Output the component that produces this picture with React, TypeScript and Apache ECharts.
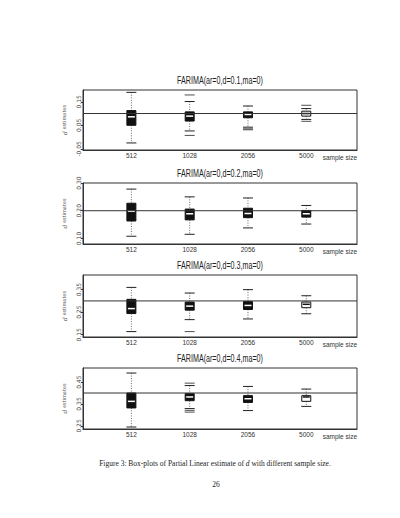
import React, { useEffect, useRef } from "react";
import * as echarts from "echarts";

const sampleSizes = ["512", "1028", "2056", "5000"];
const titles = [
  "FARIMA(ar=0,d=0.1,ma=0)",
  "FARIMA(ar=0,d=0.2,ma=0)",
  "FARIMA(ar=0,d=0.3,ma=0)",
  "FARIMA(ar=0,d=0.4,ma=0)",
];
const trueD = [0.1, 0.2, 0.3, 0.4];

// [position, low whisker, Q1, median, Q3, high whisker]
const boxes1 = [
  [1, -0.025, 0.05, 0.086, 0.1125, 0.19],
  [2, 0.026, 0.068, 0.089, 0.107, 0.151],
  [3, 0.042, 0.082, 0.096, 0.107, 0.132],
  [4, 0.075, 0.089, 0.1, 0.11, 0.121],
];
const boxes2 = [
  [1, 0.108, 0.163, 0.198, 0.227, 0.278],
  [2, 0.115, 0.167, 0.189, 0.206, 0.25],
  [3, 0.138, 0.175, 0.19, 0.209, 0.246],
  [4, 0.152, 0.177, 0.189, 0.201, 0.219],
];
const boxes3 = [
  [1, 0.164, 0.244, 0.266, 0.307, 0.36],
  [2, 0.217, 0.259, 0.277, 0.295, 0.335],
  [3, 0.22, 0.262, 0.28, 0.297, 0.35],
  [4, 0.243, 0.27, 0.285, 0.295, 0.323],
];
const boxes4 = [
  [1, 0.245, 0.332, 0.362, 0.4, 0.491],
  [2, 0.329, 0.365, 0.382, 0.397, 0.434],
  [3, 0.32, 0.357, 0.374, 0.388, 0.43],
  [4, 0.339, 0.362, 0.382, 0.388, 0.418],
];
// [position, value]
const outliers1 = [[2, 0.179], [2, 0.007], [3, 0.035], [3, 0.031], [4, 0.135], [4, 0.067]];
const outliers2: number[][] = [];
const outliers3 = [[2, 0.164]];
const outliers4 = [[2, 0.445], [2, 0.321], [2, 0.313]];

const yMin = [-0.055, 0.08, 0.14, 0.236];
const yMax = [0.2, 0.3, 0.415, 0.514];
const yTicks = [
  [-0.05, 0.05, 0.15],
  [0.1, 0.2, 0.3],
  [0.15, 0.25, 0.35],
  [0.25, 0.35, 0.45],
];
const xMin = 0.17;
const xMax = 4.87;
const allBoxes = [boxes1, boxes2, boxes3, boxes4];
const allOutliers = [outliers1, outliers2, outliers3, outliers4];

const gridTops = [90, 183, 275, 368];
const gridHeights = [60, 61, 62, 61];
const hollowPanels = [0, 2, 3]; // panels whose 5000 box looks outlined

const SANS = "'Liberation Sans', Arial, sans-serif";
const SERIF = "'Liberation Serif', 'DejaVu Serif', serif";

export default function App() {
  const ref = useRef<HTMLDivElement>(null);
  useEffect(() => {
    document.body.style.margin = "0";
    const chart = echarts.init(ref.current!, null, { renderer: "svg" });
    const grids: any[] = [];
    const xAxes: any[] = [];
    const yAxes: any[] = [];
    const series: any[] = [];
    const graphic: any[] = [];
    for (let i = 0; i < 4; i++) {
      grids.push({
        left: 83,
        width: 274,
        top: gridTops[i],
        height: gridHeights[i],
        show: true,
        borderColor: "#333",
        borderWidth: 1,
        backgroundColor: "transparent",
      });
      graphic.push({
        type: "text",
        x: 220,
        y: gridTops[i] - 10,
        scaleX: 0.68,
        style: {
          text: titles[i],
          align: "center",
          verticalAlign: "middle",
          fontFamily: SANS,
          fontSize: 10.5,
          fill: "#222",
        },
      });
      xAxes.push({
        gridIndex: i,
        type: "value",
        min: xMin,
        max: xMax,
        splitLine: { show: false },
        axisLine: { show: true, onZero: false, lineStyle: { color: "#333", width: 1 } },
        axisTick: { show: false },
        axisLabel: {
          customValues: [1, 2, 3, 4],
          formatter: (v: number) => sampleSizes[Math.round(v) - 1] ?? "",
          fontFamily: SANS,
          fontSize: 6.5,
          color: "#333",
          margin: 2,
        },
        name: "sample size",
        nameLocation: "end",
        nameGap: 0,
        nameTextStyle: {
          fontFamily: SANS,
          fontSize: 6.5,
          color: "#333",
          align: "right",
          verticalAlign: "top",
          padding: [4, 0, 0, 0],
        },
      });
      yAxes.push({
        gridIndex: i,
        type: "value",
        min: yMin[i],
        max: yMax[i],
        splitLine: { show: false },
        axisLine: { show: true, onZero: false, lineStyle: { color: "#333", width: 1 } },
        axisTick: { show: true, customValues: yTicks[i], length: 2, lineStyle: { color: "#333" } },
        axisLabel: {
          customValues: yTicks[i],
          formatter: (v: number) => v.toFixed(2),
          rotate: 90,
          fontFamily: "'DejaVu Sans', sans-serif",
          fontSize: 6,
          color: "#444",
          margin: 2,
        },
        name: "{it|d} estimates",
        nameLocation: "middle",
        nameGap: 8,
        nameTextStyle: {
          fontFamily: "'DejaVu Sans', sans-serif",
          fontSize: 5,
          color: "#555",
          rich: { it: { fontStyle: "italic", fontSize: 6, fontFamily: "'DejaVu Serif', serif", color: "#555" } },
        },
      });
      series.push({
        type: "line",
        xAxisIndex: i,
        yAxisIndex: i,
        data: [[xMin, trueD[i]], [xMax, trueD[i]]],
        symbol: "none",
        lineStyle: { color: "#333", width: 1 },
        silent: true,
      });
      const panel = i;
      series.push({
        type: "custom",
        xAxisIndex: i,
        yAxisIndex: i,
        data: allBoxes[i],
        encode: { x: 0, y: [1, 2, 3, 4, 5] },
        renderItem: (params: any, api: any) => {
          const x = api.value(0);
          const lo = api.coord([x, api.value(1)]);
          const q1 = api.coord([x, api.value(2)]);
          const med = api.coord([x, api.value(3)]);
          const q3 = api.coord([x, api.value(4)]);
          const hi = api.coord([x, api.value(5)]);
          const cx = lo[0];
          const hw = 4.5;
          const cw = 5;
          const hollow = x === 4 && hollowPanels.indexOf(panel) >= 0;
          return {
            type: "group",
            children: [
              {
                type: "line",
                shape: { x1: cx, y1: hi[1], x2: cx, y2: q3[1] },
                style: { stroke: "#444", lineWidth: 0.8, lineDash: [1, 1.5] },
              },
              {
                type: "line",
                shape: { x1: cx, y1: q1[1], x2: cx, y2: lo[1] },
                style: { stroke: "#444", lineWidth: 0.8, lineDash: [1, 1.5] },
              },
              {
                type: "line",
                shape: { x1: cx - cw, y1: hi[1], x2: cx + cw, y2: hi[1] },
                style: { stroke: "#222", lineWidth: 1 },
              },
              {
                type: "line",
                shape: { x1: cx - cw, y1: lo[1], x2: cx + cw, y2: lo[1] },
                style: { stroke: "#222", lineWidth: 1 },
              },
              {
                type: "rect",
                shape: { x: cx - hw, y: q3[1], width: hw * 2, height: q1[1] - q3[1] },
                style: { fill: hollow ? "#fff" : "#111", stroke: "#111", lineWidth: 1 },
              },
              {
                type: "line",
                shape: { x1: cx - hw + 1, y1: med[1], x2: cx + hw - 1, y2: med[1] },
                style: { stroke: hollow ? "#111" : "#fff", lineWidth: 1.5 },
              },
            ],
          };
        },
      });
      series.push({
        type: "scatter",
        xAxisIndex: i,
        yAxisIndex: i,
        data: allOutliers[i],
        symbol: "rect",
        symbolSize: [10, 1],
        itemStyle: { color: "#222" },
      });
    }
    graphic.push(
      {
        type: "text",
        x: 215,
        y: 463,
        style: {
          text: "Figure 3: Box-plots of Partial Linear estimate of {it|d} with different sample size.",
          align: "center",
          verticalAlign: "middle",
          fontFamily: SERIF,
          fontSize: 7.5,
          fill: "#222",
          rich: {
            it: { fontStyle: "italic", fontFamily: SERIF, fontSize: 7.5, fill: "#222" },
          },
        },
      },
      {
        type: "text",
        x: 216,
        y: 484,
        style: {
          text: "26",
          align: "center",
          verticalAlign: "middle",
          fontFamily: SERIF,
          fontSize: 7.5,
          fill: "#222",
        },
      }
    );
    chart.setOption({
      animation: false,
      backgroundColor: "#fff",
      grid: grids,
      xAxis: xAxes,
      yAxis: yAxes,
      series,
      graphic,
    });
    return () => chart.dispose();
  }, []);
  return <div ref={ref} style={{ width: 400, height: 518 }} />;
}
